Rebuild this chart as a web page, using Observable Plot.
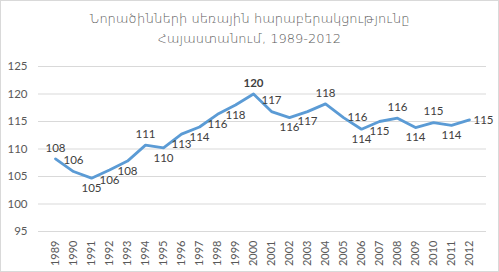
<!DOCTYPE html>
<html><head><meta charset="utf-8">
<script src="https://cdn.jsdelivr.net/npm/d3@7"></script>
<script src="https://cdn.jsdelivr.net/npm/@observablehq/plot@0.6"></script>
<style>
html,body{margin:0;padding:0;background:#fff;}
#wrap{position:relative;width:499px;height:272px;overflow:hidden;background:#fff;}
#title{position:absolute;left:0;top:9px;width:499px;text-align:center;font-family:"DejaVu Sans";font-weight:200;font-size:13px;line-height:20px;color:#595959;}
#border{position:absolute;left:0;top:0;width:499px;height:272px;box-sizing:border-box;border:1px solid #d9d9d9;pointer-events:none;}
</style></head><body>
<div id="wrap"><div id="chart"></div><div id="title"></div><div id="border"></div></div>
<script>
const titleLines = ["Նորածինների սեռային հարաբերակցությունը", "Հայաստանում, 1989-2012"];
const years = ["1989","1990","1991","1992","1993","1994","1995","1996","1997","1998","1999","2000","2001","2002","2003","2004","2005","2006","2007","2008","2009","2010","2011","2012"];
const ratio = [108.2,105.9,104.7,106.2,107.8,110.7,110.2,112.7,114.0,116.3,118.0,120.0,116.8,115.7,116.8,118.2,115.7,113.6,115.0,115.6,113.9,114.8,114.3,115.3];
const labelPlacement = ["above","above","below","below","below","above","below","below","below","below","below","above","above","below","below","above","right","below","below","above","below","above","below","right"];
const yTicks = [95,100,105,110,115,120,125];

document.getElementById("title").innerHTML = titleLines.join("<br>");

const rows = years.map((y,i)=>({year:y, value:ratio[i], pos:labelPlacement[i]}));
const fmt = d3.format(".0f");
const maxV = d3.max(ratio);
const lab = {fontFamily:"Lato", fontSize:11.5, fill:"#404040"};
const isMax = d => d.value === maxV;

const plot = Plot.plot({
  width:499, height:272, marginTop:66, marginBottom:41, marginLeft:38, marginRight:13,
  style:{fontFamily:"Lato", fontSize:"11px", color:"#595959", background:"transparent"},
  x:{type:"point", domain:years, padding:0.5, label:null},
  y:{domain:[95,125], label:null},
  marks:[
    Plot.gridY(yTicks, {stroke:"#d9d9d9", strokeOpacity:1}),
    Plot.axisY(yTicks, {tickSize:0, tickPadding:11, label:null, fontSize:11.5}),
    Plot.axisX({tickSize:0, tickRotate:-90, tickPadding:9, label:null, fontSize:11}),
    Plot.lineY(rows, {x:"year", y:"value", stroke:"#5b9bd5", strokeWidth:2.8, strokeLinejoin:"round"}),
    Plot.text(rows.filter(d=>d.pos==="above" && !isMax(d)), {x:"year", y:"value", text:d=>fmt(d.value), dy:-11, ...lab}),
    Plot.text(rows.filter(d=>d.pos==="above" && isMax(d)), {x:"year", y:"value", text:d=>fmt(d.value), dy:-11, ...lab, fontWeight:"bold"}),
    Plot.text(rows.filter(d=>d.pos==="below"), {x:"year", y:"value", text:d=>fmt(d.value), dy:10, ...lab}),
    Plot.text(rows.filter(d=>d.pos==="right"), {x:"year", y:"value", text:d=>fmt(d.value), dx:4, textAnchor:"start", ...lab})
  ]
});
document.getElementById("chart").appendChild(plot);
</script>
</body></html>
